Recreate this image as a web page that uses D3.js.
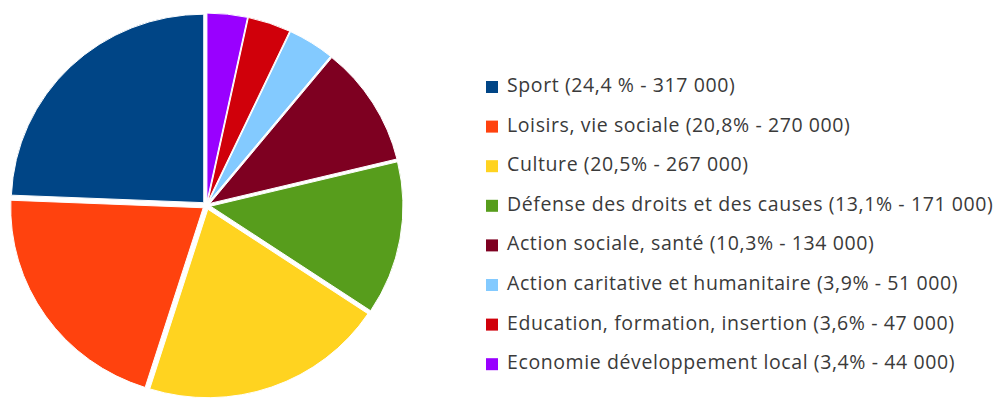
<!DOCTYPE html>
<html>
<head>
<meta charset="utf-8">
<script src="https://cdn.jsdelivr.net/npm/d3@7"></script>
<style>
  body { margin: 0; background: #fff; }
  #wrapper svg { display: block; }
</style>
</head>
<body>
<div id="wrapper"></div>
<script>
// data, in legend order
const categories = [
  "Sport",
  "Loisirs, vie sociale",
  "Culture",
  "Défense des droits et des causes",
  "Action sociale, santé",
  "Action caritative et humanitaire",
  "Education, formation, insertion",
  "Economie développement local",
]
const counts = [317000, 270000, 267000, 171000, 134000, 51000, 47000, 44000]
const legendLabels = [
  "Sport (24,4 % - 317 000)",
  "Loisirs, vie sociale (20,8% - 270 000)",
  "Culture (20,5% - 267 000)",
  "Défense des droits et des causes (13,1% - 171 000)",
  "Action sociale, santé (10,3% - 134 000)",
  "Action caritative et humanitaire (3,9% - 51 000)",
  "Education, formation, insertion (3,6% - 47 000)",
  "Economie développement local (3,4% - 44 000)",
]
const colors = [
  "#004586", "#ff420e", "#ffd320", "#579d1c",
  "#7e0021", "#83caff", "#d0000a", "#9900ff",
]

const renderChart = () => {
  const dimensions = {
    width: 996,
    height: 400,
    pie: { cx: 206.5, cy: 205.5, rx: 192.5, ry: 188.5, explode: 4 },
    legend: { x: 486, y: 87, step: 39.6, box: 12, textX: 507 },
  }

  const svg = d3
    .select("#wrapper")
    .append("svg")
    .attr("width", dimensions.width)
    .attr("height", dimensions.height)

  const data = categories.map((c, i) => ({ name: c, value: counts[i], i }))

  // pie drawn counterclockwise from 12 o'clock, starting with Sport
  const pie = d3
    .pie()
    .sort(null)
    .value((d) => d.value)
    .startAngle(0)
    .endAngle(-2 * Math.PI)

  const p = dimensions.pie
  const arc = d3.arc().innerRadius(0).outerRadius(p.rx)

  const pieGroup = svg
    .append("g")
    .attr("transform", `translate(${p.cx},${p.cy}) scale(1,${p.ry / p.rx})`)

  pieGroup
    .selectAll("path")
    .data(pie(data))
    .join("path")
    .attr("d", arc)
    .attr("fill", (d) => colors[d.data.i])
    .attr("stroke", "#fff")
    .attr("stroke-width", 1)
    .attr("transform", (d) => {
      const mid = (d.startAngle + d.endAngle) / 2
      const dx = Math.sin(mid) * p.explode
      const dy = -Math.cos(mid) * p.explode
      return `translate(${dx},${dy})`
    })

  // legend
  const l = dimensions.legend
  const rows = svg
    .append("g")
    .selectAll("g")
    .data(legendLabels)
    .join("g")
    .attr("transform", (d, i) => `translate(0,${l.y + i * l.step})`)

  rows
    .append("rect")
    .attr("x", l.x)
    .attr("y", -l.box / 2)
    .attr("width", l.box)
    .attr("height", l.box)
    .attr("fill", (d, i) => colors[i])

  rows
    .append("text")
    .attr("x", l.textX)
    .attr("y", 5)
    .attr("font-family", "'Open Sans', sans-serif")
    .attr("font-size", 19.5)
    .attr("letter-spacing", 0.6)
    .attr("fill", "#3a3a3a")
    .text((d) => d)
}

renderChart()
</script>
</body>
</html>
